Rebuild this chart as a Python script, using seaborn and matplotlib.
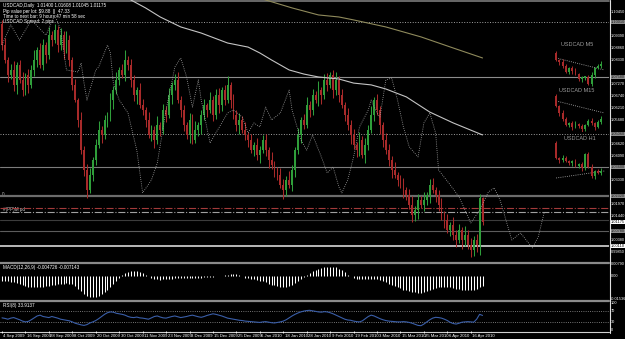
import numpy as np
import pandas as pd
import matplotlib
matplotlib.use("Agg")
import matplotlib.pyplot as plt
import matplotlib.transforms as mtransforms
import seaborn as sns

# ---------------- data ----------------
date_labels = ["4 Sep 2009", "16 Sep 2009", "28 Sep 2009", "8 Oct 2009", "20 Oct 2009",
               "30 Oct 2009", "11 Nov 2009", "23 Nov 2009", "3 Dec 2009", "15 Dec 2009",
               "25 Dec 2009", "6 Jan 2010", "18 Jan 2010", "28 Jan 2010", "9 Feb 2010",
               "19 Feb 2010", "3 Mar 2010", "15 Mar 2010", "25 Mar 2010", "6 Apr 2010",
               "16 Apr 2010"]
date_label_bars = [0, 8, 16, 24, 32, 40, 48, 56, 64, 72, 80, 88, 96, 104, 112, 120, 128, 136, 144, 152, 160]

first_open = 1.0990
closes = [1.0899, 1.0833, 1.0767, 1.0789, 1.0723, 1.0811, 1.0745, 1.0700, 1.0767, 1.0723,
          1.0789, 1.0833, 1.0877, 1.0811, 1.0899, 1.0855, 1.0943, 1.0921, 1.0966, 1.0899,
          1.0943, 1.0877, 1.0921, 1.0833, 1.0723, 1.0656, 1.0568, 1.0435, 1.0347, 1.0259,
          1.0325, 1.0391, 1.0458, 1.0524, 1.0502, 1.0568, 1.0590, 1.0656, 1.0700, 1.0745,
          1.0789, 1.0767, 1.0833, 1.0811, 1.0745, 1.0678, 1.0700, 1.0634, 1.0612, 1.0568,
          1.0502, 1.0524, 1.0480, 1.0546, 1.0524, 1.0612, 1.0590, 1.0678, 1.0723, 1.0745,
          1.0656, 1.0612, 1.0546, 1.0502, 1.0568, 1.0480, 1.0524, 1.0546, 1.0590, 1.0634,
          1.0612, 1.0656, 1.0590, 1.0678, 1.0634, 1.0700, 1.0656, 1.0723, 1.0656, 1.0590,
          1.0546, 1.0568, 1.0524, 1.0502, 1.0480, 1.0435, 1.0458, 1.0413, 1.0435, 1.0480,
          1.0435, 1.0391, 1.0369, 1.0347, 1.0325, 1.0281, 1.0259, 1.0303, 1.0281, 1.0347,
          1.0435, 1.0502, 1.0568, 1.0546, 1.0634, 1.0612, 1.0678, 1.0656, 1.0700, 1.0678,
          1.0745, 1.0723, 1.0767, 1.0700, 1.0745, 1.0678, 1.0634, 1.0590, 1.0546, 1.0502,
          1.0458, 1.0435, 1.0480, 1.0413, 1.0458, 1.0524, 1.0590, 1.0656, 1.0612, 1.0546,
          1.0480, 1.0435, 1.0391, 1.0347, 1.0325, 1.0303, 1.0281, 1.0259, 1.0237, 1.0192,
          1.0148, 1.0170, 1.0214, 1.0192, 1.0214, 1.0237, 1.0281, 1.0259, 1.0237, 1.0192,
          1.0148, 1.0126, 1.0082, 1.0104, 1.0060, 1.0038, 1.0082, 1.0038, 1.0060, 1.0016,
          0.9994, 1.0038, 1.0016, 1.0223, 1.0118]
wick_up_pips = [18, 30, 12, 25, 40, 15, 22, 35, 10, 28, 20, 45, 15, 30, 25,
                12, 35, 20, 25, 15, 30, 18, 40, 22, 15, 28, 10, 35, 20, 25,
                30, 15, 25, 40, 18, 22, 12, 30, 20, 35, 15, 25, 45, 18, 28,
                20, 12, 30, 25, 15, 35, 22, 18, 40, 12, 28, 20, 30, 15, 25,
                35, 18, 22, 12, 30, 25, 40, 15, 20, 28, 10, 35, 18, 25, 30,
                15, 22, 40, 12, 28, 20, 30, 18, 35, 15, 25, 12, 30, 20, 22,
                28, 15, 35, 20, 12, 30, 25, 18, 40, 22, 15, 30, 12, 25, 35,
                18, 28, 20, 40, 15, 25, 30, 12, 22, 35, 18, 25, 15, 30, 20,
                25, 12, 35, 18, 30, 22, 40, 15, 28, 20, 12, 30, 25, 18, 35,
                15, 22, 30, 12, 25, 40, 18, 28, 20, 35, 15, 25, 30, 12, 22,
                30, 18, 25, 15, 35, 20, 28, 12, 40, 22, 30, 18, 25, 20, 5]
wick_dn_pips = [22, 15, 30, 18, 25, 40, 12, 28, 20, 35, 15, 25, 30, 12, 22,
                35, 18, 25, 12, 30, 20, 40, 15, 28, 22, 10, 30, 18, 25, 35,
                15, 28, 20, 12, 35, 18, 30, 25, 40, 15, 22, 12, 28, 20, 30,
                25, 40, 15, 22, 30, 12, 28, 35, 18, 25, 20, 30, 15, 40, 22,
                12, 30, 25, 18, 35, 20, 15, 28, 40, 22, 30, 12, 25, 18, 35,
                28, 20, 12, 35, 18, 25, 40, 15, 22, 30, 12, 28, 20, 35, 15,
                25, 35, 18, 30, 22, 12, 40, 28, 15, 25, 30, 18, 35, 20, 12,
                30, 22, 15, 28, 40, 18, 25, 12, 35, 20, 30, 15, 28, 22, 40,
                18, 30, 25, 12, 35, 22, 15, 28, 20, 40, 30, 18, 25, 35, 12,
                28, 15, 35, 22, 18, 30, 25, 40, 12, 28, 20, 35, 15, 30, 25,
                20, 35, 12, 28, 22, 30, 15, 40, 25, 18, 30, 25, 30, 45, 15]

macd = [-0.0030, -0.0032, -0.0035, -0.0038, -0.0042, -0.0048, -0.0055,
        -0.0062, -0.0068, -0.0072, -0.0074, -0.0075, -0.0074, -0.0072, -0.0070, -0.0068, -0.0065, -0.0062, -0.0058, -0.0055, -0.0052,
        -0.0050, -0.0049, -0.0050, -0.0056, -0.0068, -0.0085,
        -0.0102, -0.0118, -0.0130, -0.0138, -0.0140, -0.0139, -0.0133, -0.0122, -0.0108, -0.0090,
        -0.0070, -0.0050, -0.0030, -0.0012,
        0.0005, 0.0018, 0.0028, 0.0033, 0.0034, 0.0032, 0.0028, 0.0020, 0.0010,
        -0.0002, -0.0012, -0.0018, -0.0022, -0.0024, -0.0023, -0.0021, -0.0019, -0.0017,
        -0.0016, -0.0015, -0.0014, -0.0014, -0.0013, -0.0013, -0.0012, -0.0012, -0.0011, -0.0010, -0.0009, -0.0008, -0.0006, -0.0004, -0.0002, 0.0000, 0.0003, 0.0007,
        0.0010, 0.0013, 0.0013, 0.0011, 0.0006,
        -0.0002, -0.0010, -0.0016, -0.0020, -0.0023, -0.0026, -0.0030,
        -0.0036, -0.0043, -0.0050, -0.0057, -0.0063, -0.0068, -0.0071, -0.0073, -0.0072, -0.0068, -0.0060,
        -0.0048, -0.0034, -0.0020, -0.0006, 0.0008, 0.0020, 0.0031, 0.0040, 0.0046,
        0.0052, 0.0057, 0.0060, 0.0062, 0.0062, 0.0058, 0.0050,
        0.0038, 0.0024, 0.0010, -0.0002,
        -0.0012, -0.0018, -0.0020, -0.0021, -0.0020, -0.0019, -0.0018, -0.0017, -0.0018,
        -0.0024, -0.0032, -0.0041, -0.0050, -0.0059, -0.0068, -0.0076, -0.0083, -0.0090, -0.0096, -0.0101, -0.0105, -0.0108, -0.0110, -0.0110,
        -0.0107, -0.0102, -0.0095, -0.0088, -0.0081, -0.0076, -0.0073,
        -0.0072, -0.0073, -0.0076, -0.0080, -0.0084, -0.0088, -0.0091, -0.0093, -0.0094, -0.0093, -0.0090, -0.0085, -0.0072, -0.0065]

rsi = [45, 43, 40, 44, 46, 42, 38, 33, 30, 32, 38, 45, 52, 55, 50,
       48, 46, 50, 47, 44, 40, 38, 36, 34, 30, 25, 22, 19, 17, 20,
       26, 30, 35, 42, 50, 58, 64, 67, 66, 62, 60, 58, 55, 50, 47,
       46, 48, 45, 44, 42, 40, 45, 50, 52, 48, 45, 44, 47, 50, 52,
       49, 46, 48, 50, 53, 55, 52, 49, 47, 50, 54, 57, 60, 58, 55,
       52, 48, 44, 42, 40, 38, 36, 35, 33, 32, 31, 30, 29, 28, 30,
       31, 29, 27, 26, 28, 30, 33, 38, 45, 52, 58, 63, 67, 70, 72,
       73, 71, 69, 67, 66, 68, 67, 64, 60, 55, 50, 45, 40, 37, 36,
       33, 31, 30, 34, 42, 50, 55, 52, 47, 42, 38, 35, 33, 32, 31,
       30, 30, 31, 30, 28, 25, 21, 17, 16, 22, 30, 38, 44, 47, 46,
       44, 40, 35, 28, 24, 22, 25, 29, 30, 31, 30, 29, 40, 58, 54]

ma_slow_bars = [42, 44, 49, 54, 61, 68, 77, 84, 88, 92, 98, 103, 108, 115, 120, 126, 131, 138, 146, 154, 164]
ma_slow_vals = [1.1120, 1.1098, 1.1063, 1.1023, 1.0979, 1.0952, 1.0908, 1.0890, 1.0864, 1.0833,
                1.0789, 1.0771, 1.0758, 1.0749, 1.0731, 1.0723, 1.0705, 1.0670, 1.0603, 1.0555, 1.0502]
ma_long_bars = [85, 90, 99, 108, 115, 120, 131, 143, 154, 164]
ma_long_vals = [1.1120, 1.1098, 1.1063, 1.1032, 1.1023, 1.1010, 1.0979, 1.0935, 1.0886, 1.0842]

shift_bars = [0, 3, 6, 10, 15, 18, 20, 22, 26, 27, 28, 29, 32, 33, 36, 37, 38, 40, 43, 46,
              48, 51, 53, 56, 59, 61, 63, 65, 67, 68, 71, 73, 77, 79, 82, 84, 86, 88, 90, 92,
              95, 98, 99, 102, 104, 106, 109, 111, 113, 115, 116, 118, 120, 122, 125, 126, 128, 129, 131, 133,
              135, 137, 139, 142, 144, 146, 148, 149, 153, 156, 160, 163, 166, 168, 170, 173, 174, 177, 181, 183, 185]
shift_vals = [1.0899, 1.0988, 1.0921, 1.1010, 1.0943, 1.1032, 1.0966, 1.0789, 1.0780, 1.0820,
              1.0731, 1.0656, 1.0789, 1.0802, 1.0899, 1.0864, 1.0731, 1.0656, 1.0599, 1.0435,
              1.0246, 1.0303, 1.0378, 1.0612, 1.0802, 1.0842, 1.0758, 1.0625, 1.0745, 1.0656,
              1.0466, 1.0511, 1.0599, 1.0612, 1.0581, 1.0511, 1.0555, 1.0537, 1.0625, 1.0568,
              1.0599, 1.0700, 1.0612, 1.0480, 1.0435, 1.0502, 1.0405, 1.0334, 1.0360, 1.0272,
              1.0246, 1.0303, 1.0405, 1.0537, 1.0612, 1.0656, 1.0599, 1.0581, 1.0745, 1.0753,
              1.0656, 1.0537, 1.0449, 1.0405, 1.0555, 1.0599, 1.0511, 1.0347, 1.0281, 1.0228,
              1.0113, 1.0170, 1.0250, 1.0268, 1.0214, 1.0082, 1.0038, 1.0069, 1.0003, 1.0051, 1.0157]

level_prices = [1.1001, 1.0758, 1.0506, 1.0360, 1.0232, 1.0179, 1.0162, 1.0126, 1.0078, 1.0011]
boxed_levels = [1.1001, 1.0758, 1.0506, 1.0360, 1.0232, 1.0078]
white_boxed = [1.0011, 1.01175]
price_ticks = [1.10450, 1.09920, 1.09390, 1.08860, 1.08330, 1.07800, 1.07270, 1.06740, 1.06210,
               1.05680, 1.05150, 1.04620, 1.04090, 1.03560, 1.03030, 1.02500, 1.01970, 1.01440,
               1.00910, 1.00380, 0.99850]
macd_ticks = [0.0079, 0.0, -0.01536]
macd_tick_labels = ["0.00790", "0.00", "-0.01536"]
rsi_ticks = [100, 70, 30, 0]

m5_open0 = 1.0162
m5_close = [1.0155, 1.0153, 1.0149, 1.0143, 1.0147, 1.0144, 1.0141, 1.0136, 1.0137, 1.0138, 1.0131, 1.0140, 1.0147, 1.0149, 1.0151]
m15_open0 = 1.0165
m15_close = [1.0155, 1.0148, 1.0142, 1.0136, 1.0138, 1.0134, 1.0137, 1.0135, 1.0132, 1.0136, 1.0140, 1.0138, 1.0134, 1.0139, 1.0142]
h1_open0 = 1.0163
h1_close = [1.0148, 1.0146, 1.0148, 1.0145, 1.0143, 1.0144, 1.0140, 1.0142, 1.0138, 1.0152, 1.0139, 1.0130, 1.0135, 1.0133, 1.0135]
mini_wick_up = [2, 1, 3, 2, 1, 2, 3, 1, 2, 1, 2, 3, 1, 2, 3]
mini_wick_dn = [1, 3, 2, 1, 2, 3, 1, 2, 3, 2, 1, 2, 3, 1, 2]
m5_trend = [1.0157, 1.0145]
m15_trend = [1.0160, 1.0148]
h1_trend = [1.0128, 1.0135]

# ---------------- style ----------------
sns.set_theme(style="dark")
plt.rcParams["font.family"] = ["Liberation Sans Narrow", "Liberation Sans", "DejaVu Sans"]
plt.rcParams["axes.facecolor"] = "black"

W, H = 625, 339
fig = plt.figure(figsize=(W / 100, H / 100), dpi=100, facecolor="black")

UP = "#2f9e3a"
DN = "#a82a2a"
FS = 3.3
FS_AX = 2.8
LBL_X = 611 / 609
PX_PER_BAR = 2.93
XMIN = -2 / PX_PER_BAR
XMAX = (609 - 2) / PX_PER_BAR
PIX_PRICE = 0.0004417


def px_axes(x0, y0, x1, y1, z=2):
    a = fig.add_axes([x0 / W, 1 - y1 / H, (x1 - x0) / W, (y1 - y0) / H], zorder=z)
    a.set_facecolor("none")
    a.set_axis_off()
    return a


def draw_candles(ax, open0, cl, wu, wd, unit, width, lw):
    cl = np.asarray(cl, dtype=float)
    op = np.concatenate([[open0], cl[:-1]])
    hi = np.maximum(op, cl) + np.asarray(wu) * unit
    lo = np.minimum(op, cl) - np.asarray(wd) * unit
    x = np.arange(len(cl))
    cols = [UP if c >= o else DN for o, c in zip(op, cl)]
    ax.vlines(x, lo, hi, colors=cols, linewidth=lw, zorder=3)
    body = np.maximum(np.abs(cl - op), unit * 1.5)
    ax.bar(x, body, bottom=np.minimum(op, cl), width=width, color=cols, linewidth=0, zorder=4)


# background (frame lines, texts)
bg = fig.add_axes([0, 0, 1, 1], zorder=0)
bg.set_xlim(0, W)
bg.set_ylim(H, 0)
bg.set_axis_off()
bg.plot([0, 609], [0.8, 0.8], color="#7a7a7a", lw=1.2)
bg.plot([0, 609], [263, 263], color="#8a8a8a", lw=1.6)
bg.plot([0, 609], [301, 301], color="#8a8a8a", lw=1.6)
bg.plot([0, 609], [331.5, 331.5], color="#cfcfcf", lw=0.8)
bg.plot([609.5, 609.5], [0, 333], color="#e0e0e0", lw=0.8)

# ---------------- main price panel ----------------
ax = px_axes(0, 0, 609, 262, z=2)
ax.set_xlim(XMIN, XMAX)
ax.set_ylim(1.1098 - 262 * PIX_PRICE, 1.1098)

level_styles = [(":", "#a0a0a0", 0.7), ("-", "#8c8c8c", 0.8), (":", "#a0a0a0", 0.7),
                ("-", "#7c7c7c", 0.8), ("-", "#6c6c6c", 1.6), ("-.", "#a33a3a", 0.8),
                ("-.", "#a0a0a0", 0.8), ("-", "#3c3c3c", 0.8), ("-", "#5c5c5c", 0.8),
                ("-", "#d8d8d8", 1.2)]
for lv, (ls, col, lw) in zip(level_prices, level_styles):
    ax.axhline(lv, color=col, ls=ls, lw=lw, zorder=1)

draw_candles(ax, first_open, closes, wick_up_pips, wick_dn_pips, 0.0001, 0.62, 0.75)

df_slow = pd.DataFrame({"bar": ma_slow_bars, "v": ma_slow_vals})
df_long = pd.DataFrame({"bar": ma_long_bars, "v": ma_long_vals})
df_shift = pd.DataFrame({"bar": shift_bars, "v": shift_vals})
sns.lineplot(data=df_slow, x="bar", y="v", ax=ax, color="#c4c4c4", lw=0.8, estimator=None, legend=False, zorder=5)
sns.lineplot(data=df_long, x="bar", y="v", ax=ax, color="#8f8a5c", lw=0.8, estimator=None, legend=False, zorder=5)
sns.lineplot(data=df_shift, x="bar", y="v", ax=ax, color="#a8a8a8", lw=0.6, estimator=None, legend=False,
             dashes=False, zorder=5)
ax.lines[-1].set_dashes([1, 1.6])
ax.set_axis_off()

tr = mtransforms.blended_transform_factory(ax.transAxes, ax.transData)
boxed_all = boxed_levels + white_boxed
for v in price_ticks:
    # a plain label hidden behind a boxed level label is not drawn (as on the terminal)
    if min(abs(v - b) for b in boxed_all) < 5 * PIX_PRICE:
        continue
    ax.text(LBL_X, v, f"{v:.5f}", transform=tr, color="white", fontsize=FS_AX, va="center", ha="left", clip_on=False)
for v in boxed_levels:
    ax.text(LBL_X, v, f"{v:.5f}", transform=tr, color="#202020", fontsize=FS_AX, va="center", ha="left", clip_on=False,
            bbox=dict(boxstyle="square,pad=0.1", fc="#8c8c8c", ec="none"), zorder=10)
for v in white_boxed:
    ax.text(LBL_X, v, f"{v:.5f}", transform=tr, color="black", fontsize=FS_AX, va="center", ha="left", clip_on=False,
            bbox=dict(boxstyle="square,pad=0.1", fc="white", ec="none"), zorder=10)


# mini charts
def mini(px, title, tx, ty, open0, cl, trend, ylim):
    a = px_axes(*px, z=3)
    a.set_xlim(-1, 15.5)
    a.set_ylim(*ylim)
    draw_candles(a, open0, cl, mini_wick_up, mini_wick_dn, 0.0001, 0.6, 0.7)
    dft = pd.DataFrame({"bar": [0, 15], "v": trend})
    sns.lineplot(data=dft, x="bar", y="v", ax=a, color="#bbbbbb", lw=0.6, estimator=None, legend=False)
    a.lines[-1].set_dashes([1, 1.6])
    a.set_axis_off()
    bg.text(tx, ty, title, color="#9c9c9c", fontsize=4.0, ha="center", va="center")


mini((553, 48, 606, 88), "USDCAD M5", 577, 45, m5_open0, m5_close, m5_trend, (1.0127, 1.0167))
mini((553, 94, 606, 132), "USDCAD M15", 577, 91, m15_open0, m15_close, m15_trend, (1.0129, 1.0167))
mini((553, 140, 606, 181), "USDCAD H1", 580, 138, h1_open0, h1_close, h1_trend, (1.0125, 1.0166))

# header text
bg.text(3, 5, "USDCAD,Daily  1.01400 1.01608 1.01045 1.01175", color="white", fontsize=FS, va="center")
bg.text(3, 12, "Pip value per lot: $9.88  ||  47.33", color="white", fontsize=FS, va="center")
bg.text(3, 16.5, "Time to next bar: 9 hours 47 min 58 sec", color="white", fontsize=FS, va="center")
bg.text(3, 21, "USDCAD Spread: 2 pips", color="white", fontsize=FS, va="center")
bg.text(2, 194, "0", color="#bdbdbd", fontsize=FS, va="center")
bg.text(3, 210, "#(PP)M pd", color="#cfcfcf", fontsize=FS, va="center")

# ---------------- MACD panel ----------------
axm = px_axes(0, 264, 609, 300, z=2)
axm.set_xlim(XMIN, XMAX)
axm.set_ylim(-0.0160, 0.0080)
axm.vlines(np.arange(len(macd)), 0, macd, colors="white", linewidth=0.75)
axm.set_axis_off()
trm = mtransforms.blended_transform_factory(axm.transAxes, axm.transData)
for v, s in zip(macd_ticks, macd_tick_labels):
    axm.text(LBL_X, v, s, transform=trm, color="white", fontsize=FS_AX, va="center", ha="left", clip_on=False)
bg.text(3, 268, "MACD(12,26,9) -0.004726 -0.007143", color="white", fontsize=FS, va="center")

# ---------------- RSI panel ----------------
axr = px_axes(0, 302, 609, 331, z=2)
axr.set_xlim(XMIN, XMAX)
axr.set_ylim(-3.7, 103.7)
axr.axhline(70, color="#9a9a9a", ls=":", lw=0.6)
axr.axhline(30, color="#9a9a9a", ls=":", lw=0.6)
df_rsi = pd.DataFrame({"bar": np.arange(len(rsi)), "v": rsi})
sns.lineplot(data=df_rsi, x="bar", y="v", ax=axr, color="#3a5ea8", lw=0.8, estimator=None, legend=False)
axr.set_axis_off()
trr = mtransforms.blended_transform_factory(axr.transAxes, axr.transData)
for v in rsi_ticks:
    axr.text(LBL_X, v, f"{v}", transform=trr, color="white", fontsize=FS_AX, va="center", ha="left", clip_on=False)
bg.text(3, 306, "RSI(8) 33.9137", color="white", fontsize=FS, va="center")

# ---------------- date axis ----------------
axd = px_axes(0, 331, 609, 339, z=2)
axd.set_xlim(XMIN, XMAX)
axd.set_ylim(1, 0)
axd.vlines(date_label_bars, 0, 0.3, colors="white", linewidth=0.6)
for b, s in zip(date_label_bars, date_labels):
    axd.text(b + 0.5, 0.58, s, color="white", fontsize=3.1, va="center", ha="left")

fig.savefig("out.png", dpi=100, facecolor="black")
